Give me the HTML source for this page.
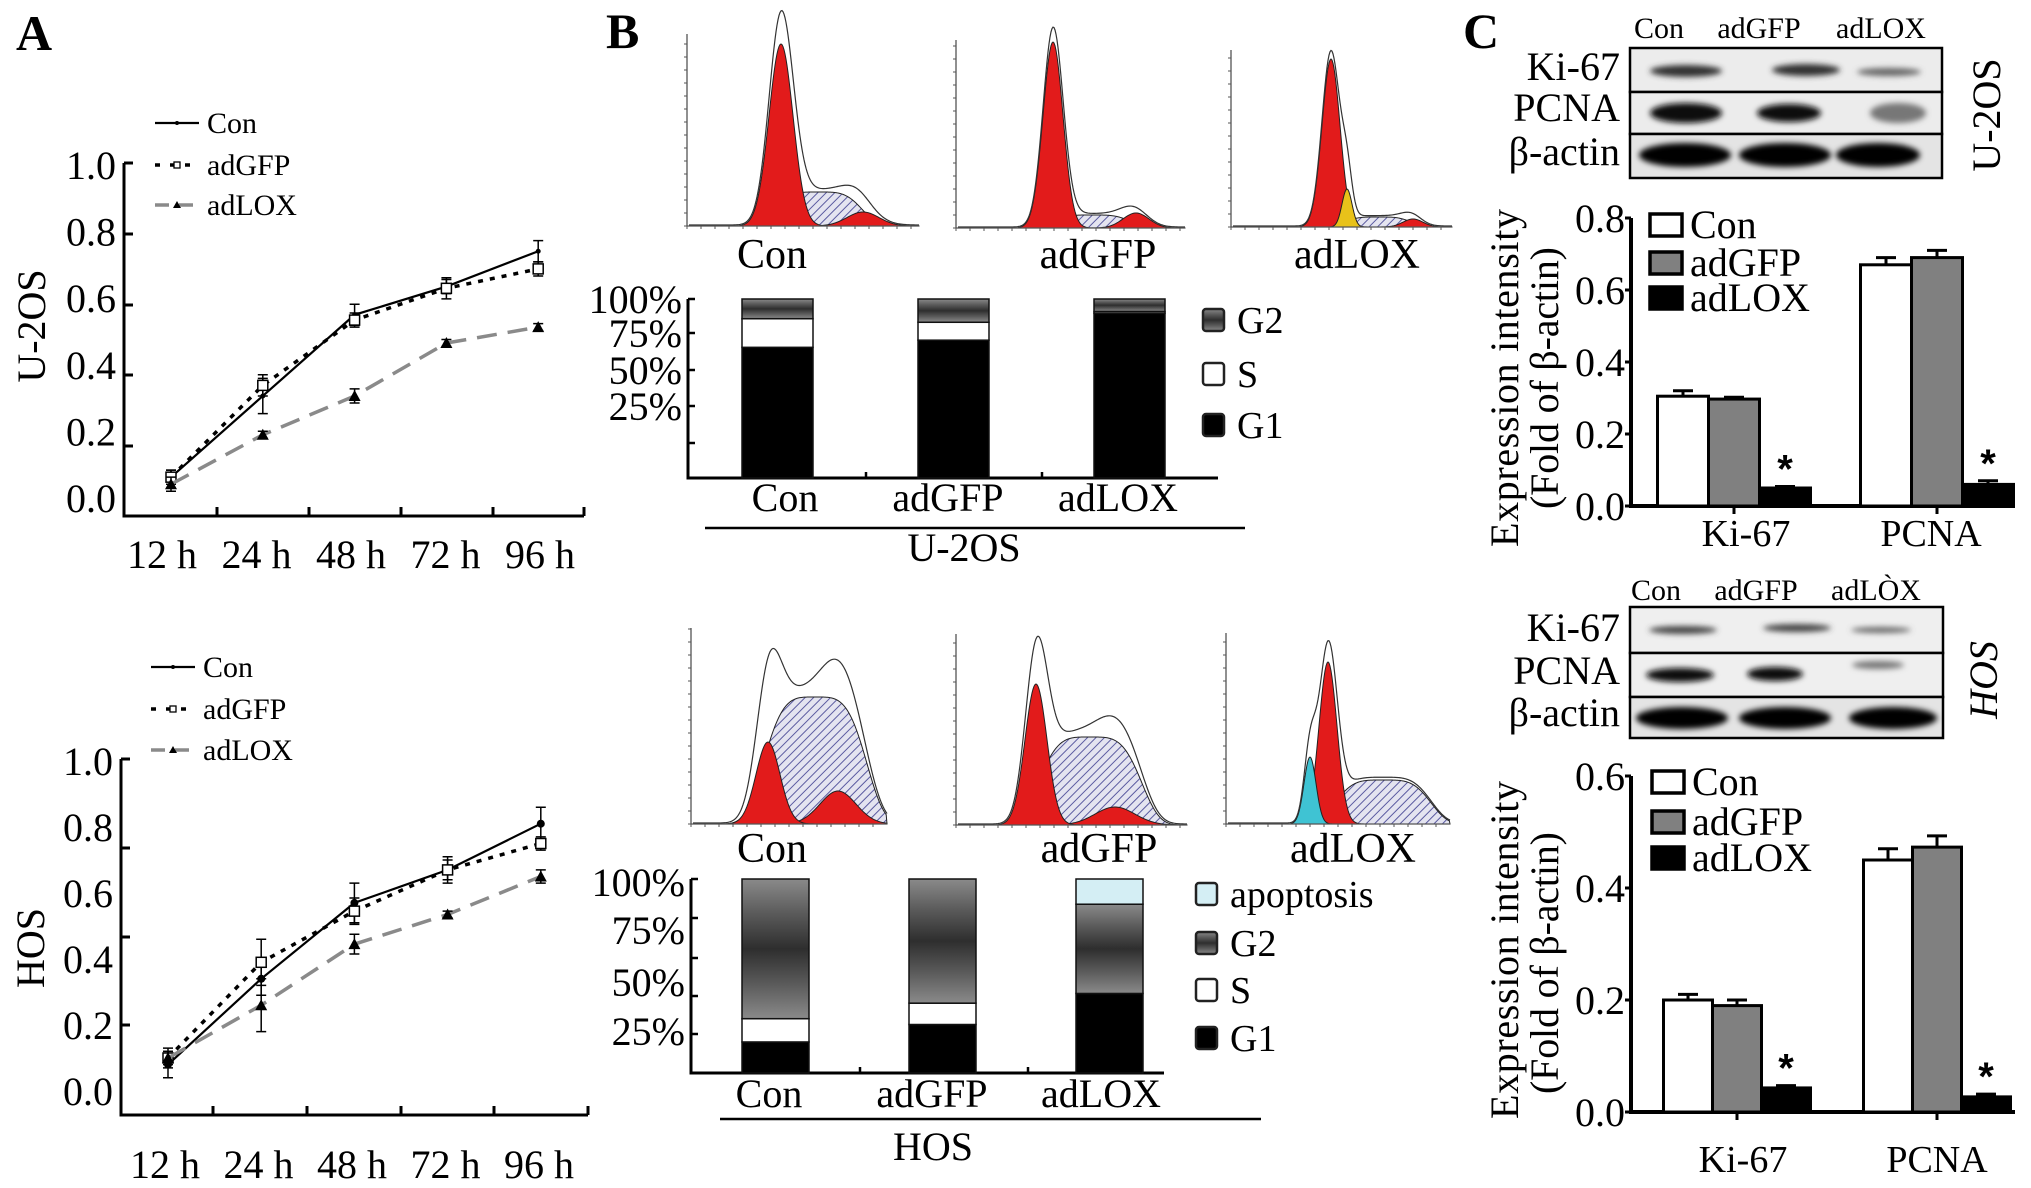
<!DOCTYPE html>
<html><head><meta charset="utf-8"><style>
html,body{margin:0;padding:0;background:#fff;}
svg{display:block;font-family:"Liberation Serif",serif;}
</style></head><body>
<svg id="fig" xmlns="http://www.w3.org/2000/svg" width="2031" height="1188" viewBox="0 0 2031 1188">
<defs>
<linearGradient id="g2grad" x1="0" y1="0" x2="0" y2="1">
<stop offset="0" stop-color="#8a8a8a"/><stop offset="0.25" stop-color="#5a5a5a"/><stop offset="0.5" stop-color="#2e2e2e"/><stop offset="0.75" stop-color="#5a5a5a"/><stop offset="1" stop-color="#8a8a8a"/>
</linearGradient>
<pattern id="hatch" width="6" height="6" patternUnits="userSpaceOnUse" patternTransform="rotate(45)">
<rect width="6" height="6" fill="#e4e4f0"/><line x1="0" y1="0" x2="0" y2="6" stroke="#5a5aa0" stroke-width="2"/>
</pattern>
<filter id="blur" x="-20%" y="-50%" width="140%" height="200%"><feGaussianBlur stdDeviation="3"/></filter>
</defs>
<rect width="2031" height="1188" fill="#fff"/>

<text x="16" y="50" font-size="50" font-weight="bold">A</text>
<text x="606" y="48" font-size="50" font-weight="bold">B</text>
<text x="1463" y="48" font-size="50" font-weight="bold">C</text>

<text transform="translate(45,326) rotate(-90)" text-anchor="middle" font-size="40">U-2OS</text>
<text transform="translate(44,948) rotate(-90)" text-anchor="middle" font-size="40">HOS</text>

<line x1="705" y1="528" x2="1245" y2="528" stroke="#000" stroke-width="2.5"/>
<text x="964" y="561" text-anchor="middle" font-size="40">U-2OS</text>
<line x1="720" y1="1119" x2="1261" y2="1119" stroke="#000" stroke-width="2.5"/>
<text x="933" y="1160" text-anchor="middle" font-size="40">HOS</text>

<g>
<text x="1659" y="38" text-anchor="middle" font-size="30">Con</text>
<text x="1759" y="38" text-anchor="middle" font-size="30">adGFP</text>
<text x="1881" y="38" text-anchor="middle" font-size="30">adLOX</text>
<rect x="1630" y="48" width="312" height="44" fill="#ececec" stroke="#000" stroke-width="2.5"/>
<rect x="1630" y="92" width="312" height="42" fill="#ececec" stroke="#000" stroke-width="2.5"/>
<rect x="1630" y="134" width="312" height="44" fill="#e4e4e4" stroke="#000" stroke-width="2.5"/>
<g filter="url(#blur)">
<ellipse cx="1686" cy="71" rx="36" ry="6" fill="#333"/><ellipse cx="1806" cy="70" rx="34" ry="6" fill="#333"/><ellipse cx="1889" cy="72" rx="32" ry="4" fill="#666"/>
<ellipse cx="1686" cy="113" rx="36" ry="10" fill="#111"/><ellipse cx="1789" cy="113" rx="32" ry="9" fill="#111"/><ellipse cx="1898" cy="113" rx="28" ry="10" fill="#777"/>
<ellipse cx="1685" cy="155" rx="46" ry="12" fill="#000"/><ellipse cx="1785" cy="155" rx="46" ry="12" fill="#000"/><ellipse cx="1878" cy="155" rx="42" ry="12" fill="#000"/>
</g>
<text x="1620" y="80" text-anchor="end" font-size="40">Ki-67</text>
<text x="1620" y="121" text-anchor="end" font-size="40">PCNA</text>
<text x="1620" y="165" text-anchor="end" font-size="40">β-actin</text>
<text transform="translate(2000,115) rotate(-90)" text-anchor="middle" font-size="40">U-2OS</text>
</g>
<g>
<text x="1656" y="600" text-anchor="middle" font-size="30">Con</text>
<text x="1756" y="600" text-anchor="middle" font-size="30">adGFP</text>
<text x="1876" y="600" text-anchor="middle" font-size="30">adLÒX</text>
<rect x="1630" y="607" width="313" height="46" fill="#efefef" stroke="#000" stroke-width="2.5"/>
<rect x="1630" y="653" width="313" height="44" fill="#efefef" stroke="#000" stroke-width="2.5"/>
<rect x="1630" y="697" width="313" height="41" fill="#e4e4e4" stroke="#000" stroke-width="2.5"/>
<g filter="url(#blur)">
<ellipse cx="1683" cy="630" rx="34" ry="4" fill="#444"/><ellipse cx="1797" cy="628" rx="34" ry="4" fill="#444"/><ellipse cx="1881" cy="630" rx="30" ry="3" fill="#666"/>
<ellipse cx="1680" cy="675" rx="34" ry="7" fill="#111"/><ellipse cx="1775" cy="674" rx="28" ry="7" fill="#111"/><ellipse cx="1878" cy="665" rx="26" ry="4" fill="#777"/>
<ellipse cx="1682" cy="718" rx="46" ry="11" fill="#000"/><ellipse cx="1785" cy="718" rx="46" ry="11" fill="#000"/><ellipse cx="1893" cy="718" rx="44" ry="11" fill="#000"/>
</g>
<text x="1620" y="641" text-anchor="end" font-size="40">Ki-67</text>
<text x="1620" y="684" text-anchor="end" font-size="40">PCNA</text>
<text x="1620" y="726" text-anchor="end" font-size="40">β-actin</text>
<text transform="translate(1997,680) rotate(-90)" text-anchor="middle" font-size="40" font-style="italic">HOS</text>
</g>
<text transform="translate(1518,378) rotate(-90)" text-anchor="middle" font-size="40" textLength="338">Expression intensity</text>
<text transform="translate(1558,378) rotate(-90)" text-anchor="middle" font-size="40" textLength="262">(Fold of β-actin)</text>
<text transform="translate(1518,950) rotate(-90)" text-anchor="middle" font-size="40" textLength="338">Expression intensity</text>
<text transform="translate(1558,963) rotate(-90)" text-anchor="middle" font-size="40" textLength="262">(Fold of β-actin)</text>
</svg>
<script>
// ---------- Panel A data ----------
const timeLabels = ['12 h', '24 h', '48 h', '72 h', '96 h'];
const lineTicks = [0, 0.2, 0.4, 0.6, 0.8, 1.0];
const seriesNames = ['Con', 'adGFP', 'adLOX'];
const u2osCon = [0.11, 0.34, 0.57, 0.65, 0.75];
const u2osGFP = [0.11, 0.37, 0.555, 0.645, 0.70];
const u2osLOX = [0.09, 0.23, 0.34, 0.49, 0.535];
const u2osConErr = [0.02, 0.05, 0.03, 0.02, 0.03];
const u2osGFPErr = [0.02, 0.03, 0.02, 0.03, 0.02];
const u2osLOXErr = [0.02, 0.01, 0.02, 0.01, 0.01];
const hosCon = [0.08, 0.34, 0.57, 0.67, 0.81];
const hosGFP = [0.10, 0.39, 0.545, 0.67, 0.75];
const hosLOX = [0.10, 0.26, 0.445, 0.535, 0.65];
const hosConErr = [0.04, 0.05, 0.06, 0.03, 0.05];
const hosGFPErr = [0.03, 0.07, 0.04, 0.04, 0.02];
const hosLOXErr = [0.02, 0.08, 0.03, 0.01, 0.02];
// ---------- Panel B data ----------
const cycleCats = ['Con', 'adGFP', 'adLOX'];
const pctTicks = ['100%', '75%', '50%', '25%'];
const u2osG1 = [73, 77, 92];
const u2osS = [16, 10, 1];
const u2osG2 = [11, 13, 7];
const hosG1 = [16, 25, 41];
const hosS = [12, 11, 0];
const hosG2 = [72, 64, 46];
const hosApo = [0, 0, 13];
// ---------- Panel C data ----------
const proteins = ['Ki-67', 'PCNA'];
const u2osExprCon = [0.305, 0.67];
const u2osExprGFP = [0.297, 0.69];
const u2osExprLOX = [0.05, 0.06];
const u2osExprConErr = [0.015, 0.02];
const u2osExprGFPErr = [0.005, 0.02];
const u2osExprLOXErr = [0.004, 0.01];
const u2osExprTicks = [0, 0.2, 0.4, 0.6, 0.8];
const hosExprCon = [0.2, 0.45];
const hosExprGFP = [0.19, 0.473];
const hosExprLOX = [0.043, 0.027];
const hosExprConErr = [0.01, 0.02];
const hosExprGFPErr = [0.01, 0.02];
const hosExprLOXErr = [0.004, 0.005];
const hosExprTicks = [0, 0.2, 0.4, 0.6];

const NS = 'http://www.w3.org/2000/svg';
const svg = document.getElementById('fig');
function mk(tag, attrs, parent) {
  const e = document.createElementNS(NS, tag);
  for (const k in attrs) e.setAttribute(k, attrs[k]);
  (parent || svg).appendChild(e);
  return e;
}
function txt(str, attrs, parent) { const t = mk('text', attrs, parent); t.textContent = str; return t; }

function lineChart(cfg) {
  const g = mk('g', {});
  
  
  const xs = i => cfg.x0 + i * cfg.dx;
  const ys = v => cfg.y0 - v * cfg.yk;
  const ax = mk('path', { d: `M${cfg.axX},${cfg.axTop} V${cfg.axBottom} H${cfg.axRight}`, fill: 'none', stroke: '#000', 'stroke-width': 3 }, g);
  
  
  cfg.yTickPos.forEach(p => { mk('line', { x1: cfg.axX, x2: cfg.axX + 9, y1: p, y2: p, stroke: '#000', 'stroke-width': 3 }, g); });
  cfg.xTickPos.forEach(p => { mk('line', { x1: p, x2: p, y1: cfg.axBottom, y2: cfg.axBottom - 9, stroke: '#000', 'stroke-width': 3 }, g); });
  lineTicks.forEach(v => {
    const t = txt(v.toFixed(1), { x: cfg.axX - 8, y: cfg.labY(v) + 14, 'text-anchor': 'end', 'font-size': 40 }, g);
    
    
  });
  timeLabels.forEach((l, i) => {
    const t = txt(l, { x: cfg.xlab0 + i * cfg.xlabDx, y: cfg.xlabY, 'text-anchor': 'middle', 'font-size': 40 }, g);
    
    
  });
  const styles = [
    { stroke: '#000', w: 2.2, dash: cfg.conDash },
    { stroke: '#000', w: 3.5, dash: '5 7' },
    { stroke: '#8a8a8a', w: 3.5, dash: '20 11' }];
  cfg.series.forEach((vals, s) => {
    const st = styles[s];
    const pts = vals.map((v, i) => `${xs(i)},${ys(v)}`).join(' ');
    const pl = mk('polyline', { points: pts, fill: 'none', stroke: st.stroke, 'stroke-width': st.w, 'stroke-dasharray': st.dash }, g);
    
    
    vals.forEach((v, i) => {
      const x = xs(i), y = ys(v), e = cfg.errs[s][i] * cfg.yk;
      const eb = mk('path', { d: `M${x},${y - e} V${y + e} M${x - 5},${y - e} H${x + 5} M${x - 5},${y + e} H${x + 5}`, stroke: '#000', 'stroke-width': 1.5, fill: 'none' }, g);
      
      
      let m;
      if (s === 0) m = mk('circle', { cx: x, cy: y, r: cfg.conR, fill: '#000' }, g);
      else if (s === 1) m = mk('rect', { x: x - 5, y: y - 5, width: 10, height: 10, fill: '#fff', stroke: '#000', 'stroke-width': 1.5 }, g);
      else m = mk('path', { d: `M${x},${y - 6} L${x + 6},${y + 5} L${x - 6},${y + 5} Z`, fill: '#000' }, g);
      
      
    });
  });
  seriesNames.forEach((n, s) => {
    const y = cfg.legY[s], st = styles[s];
    const ll = mk('line', { x1: cfg.legX0, x2: cfg.legX0 + 44, y1: y, y2: y, stroke: st.stroke, 'stroke-width': st.w, 'stroke-dasharray': s === 1 ? '5 10' : (s === 2 ? '14 10' : cfg.conDash) }, g);
    
    
    const cx = cfg.legX0 + 22;
    if (s === 0) mk('circle', { cx: cx, cy: y, r: 2, fill: '#000' }, g);
    else if (s === 1) mk('rect', { x: cx - 3, y: y - 3, width: 6, height: 6, fill: '#fff', stroke: '#000', 'stroke-width': 1.3 }, g);
    else mk('path', { d: `M${cx},${y - 4} L${cx + 4},${y + 3} L${cx - 4},${y + 3} Z`, fill: '#000' }, g);
    const t = txt(n, { x: cfg.legX0 + 52, y: y + 10, 'font-size': 30 }, g);
    
    
  });
}
lineChart({ name: 'u2os-growth-chart', x0: 171, dx: 91.8, y0: 516, yk: 353,
  axX: 124, axTop: 163, axBottom: 516, axRight: 584,
  yTickPos: [163, 234, 305, 375, 446], xTickPos: [217, 309, 401, 493, 584],
  labY: v => 498 - v * 333, xlab0: 162, xlabDx: 94.5, xlabY: 568,
  series: [u2osCon, u2osGFP, u2osLOX], errs: [u2osConErr, u2osGFPErr, u2osLOXErr],
  legX0: 155, legY: [123, 165, 205], conDash: 'none', conR: 2.5 });
lineChart({ name: 'hos-growth-chart', x0: 168, dx: 93.2, y0: 1091, yk: 330,
  axX: 121, axTop: 759, axBottom: 1115, axRight: 588,
  yTickPos: [759, 848, 937, 1025], xTickPos: [213, 307, 401, 494, 588],
  labY: v => 1091 - v * 330, xlab0: 165, xlabDx: 93.5, xlabY: 1178,
  series: [hosCon, hosGFP, hosLOX], errs: [hosConErr, hosGFPErr, hosLOXErr],
  legX0: 151, legY: [667, 709, 750], conDash: 'none', conR: 4 });

const histTitles = ['Con', 'adGFP', 'adLOX'];
const u2osPeaks = [
  [['g1', 781, 182, 12], ['s', 818, 34, 48], ['g2', 863, 14, 16]],
  [['g1', 1053, 186, 10], ['s', 1092, 13, 42], ['g2', 1136, 15, 13]],
  [['g1', 1331, 168, 9], ['y', 1347, 38, 5], ['s', 1378, 10, 36], ['g2', 1413, 8, 10]]];
const hosPeaks = [
  [['g1', 768, 82, 12], ['s', 815, 127, 56], ['g2', 838, 33, 18]],
  [['g1', 1036, 141, 11], ['s', 1090, 88, 56], ['g2', 1115, 18, 20]],
  [['a', 1310, 67, 6], ['g1', 1328, 162, 9], ['s', 1383, 44, 52]]];
function shape(p, x) {
  const d = (x - p[1]) / p[3];
  return p[0] === 's' ? p[2] * Math.exp(-Math.pow(d, 4)) : p[2] * Math.exp(-0.5 * d * d);
}
function histogram(name, axX, axTop, yb, axEnd, peaks, labX, labY) {
  const g = mk('g', {});
  
  
  const fills = { g1: '#e21b1b', g2: '#e21b1b', s: 'url(#hatch)', y: '#e8c21a', a: '#3fc3d3' };
  const order = ['s', 'g2', 'g1', 'y', 'a'];
  order.forEach(k => peaks.filter(p => p[0] === k).forEach(p => {
    const span = (k === 's' ? 1.8 : 4) * p[3];
    const x0 = Math.max(axX + 1, p[1] - span), x1 = Math.min(axEnd, p[1] + span);
    let d = `M${x0},${yb}`;
    for (let x = x0; x <= x1; x += 1) d += ` L${x},${yb - shape(p, x)}`;
    d += ` L${x1},${yb} Z`;
    const pe = mk('path', { d: d, fill: fills[k], stroke: '#222', 'stroke-width': 1 }, g);
    
    
  }));
  let d = '';
  for (let x = axX + 2; x <= axEnd; x += 1) {
    let s = 0; peaks.forEach(p => { s += shape(p, x); });
    d += (d ? ' L' : 'M') + x + ',' + (yb - s * 1.04 - 1);
  }
  const ol = mk('path', { d: d, fill: 'none', stroke: '#333', 'stroke-width': 1.2 }, g);
  
  
  const ax = mk('path', { d: `M${axX},${axTop} V${yb} H${axEnd}`, fill: 'none', stroke: '#555', 'stroke-width': 1.3 }, g);
  
  
  for (let y = yb; y > axTop; y -= 13) mk('line', { x1: axX - 3, x2: axX, y1: y, y2: y, stroke: '#555', 'stroke-width': 1 }, g);
  for (let x = axX; x < axEnd; x += 14) mk('line', { x1: x, x2: x, y1: yb, y2: yb + 3, stroke: '#555', 'stroke-width': 1 }, g);
  const t = txt(labX[1], { x: labX[0], y: labY, 'text-anchor': 'middle', 'font-size': 42 }, g);
  
  
}
histogram('u2os-hist-con', 687, 34, 226, 919, u2osPeaks[0], [772, histTitles[0]], 268);
histogram('u2os-hist-adgfp', 956, 40, 228, 1185, u2osPeaks[1], [1098, histTitles[1]], 268);
histogram('u2os-hist-adlox', 1231, 50, 227, 1452, u2osPeaks[2], [1357, histTitles[2]], 268);
histogram('hos-hist-con', 691, 628, 824, 887, hosPeaks[0], [772, histTitles[0]], 862);
histogram('hos-hist-adgfp', 956, 634, 825, 1187, hosPeaks[1], [1099, histTitles[1]], 862);
histogram('hos-hist-adlox', 1226, 633, 824, 1450, hosPeaks[2], [1353, histTitles[2]], 862);

function stacked(cfg) {
  const g = mk('g', {});
  
  
  const ys = p => cfg.y0 - p * cfg.k;
  const ax = mk('path', { d: `M${cfg.axX},${ys(100)} V${cfg.y0} H${cfg.axEnd}`, fill: 'none', stroke: '#000', 'stroke-width': 3 }, g);
  
  
  cfg.tickPos.forEach(p => mk('line', { x1: cfg.axX, x2: cfg.axX + 7, y1: p, y2: p, stroke: '#000', 'stroke-width': 2.5 }, g));
  cfg.xTicks.forEach(p => mk('line', { x1: p, x2: p, y1: cfg.y0, y2: cfg.y0 - 6, stroke: '#000', 'stroke-width': 2.5 }, g));
  pctTicks.forEach((l, i) => {
    const t = txt(l, { x: cfg.axX - 6, y: cfg.labPos[i] + 14, 'text-anchor': 'end', 'font-size': 40 }, g);
    
    
  });
  cycleCats.forEach((c, i) => {
    const x = cfg.bx0 + i * cfg.bdx;
    let base = 0;
    cfg.layers.forEach((L) => {
      const v = L.vals[i];
      if (v <= 0) return;
      const r = mk('rect', { x: x, y: ys(base + v), width: cfg.bw, height: v * cfg.k, fill: L.fill, stroke: '#111', 'stroke-width': 1.5 }, g);
      
      
      base += v;
    });
    const t = txt(c, { x: cfg.labX[i], y: cfg.labY, 'text-anchor': 'middle', 'font-size': 40 }, g);
    
    
  });
  cfg.legend.forEach((L, i) => {
    const y = cfg.legY[i];
    const r = mk('rect', { x: cfg.legX, y: y - 11, width: 21, height: 22, rx: 3, fill: L.fill, stroke: '#222', 'stroke-width': 2.5 }, g);
    
    
    const t = txt(L.n, { x: cfg.legX + 34, y: y + 13, 'font-size': 38 }, g);
    
    
  });
}
stacked({ name: 'u2os-cycle-bars', y0: 478, k: 1.79, axX: 688, axEnd: 1218,
  tickPos: [299, 333, 370, 406, 443], xTicks: [866, 1042], labPos: [299, 333, 370, 406],
  bx0: 742, bdx: 176, bw: 71, labX: [785, 948, 1118], labY: 511,
  layers: [{ n: 'g1', vals: u2osG1, fill: '#000' }, { n: 's', vals: u2osS, fill: '#fff' }, { n: 'g2', vals: u2osG2, fill: 'url(#g2grad)' }],
  legX: 1203, legY: [320, 374, 425],
  legend: [{ n: 'G2', fill: 'url(#g2grad)' }, { n: 'S', fill: '#fff' }, { n: 'G1', fill: '#000' }] });
stacked({ name: 'hos-cycle-bars', y0: 1073, k: 1.94, axX: 691, axEnd: 1164,
  tickPos: [879, 918, 958, 996, 1034], xTicks: [860, 1028], labPos: [882, 930, 982, 1031],
  bx0: 742, bdx: 167, bw: 67, labX: [769, 932, 1101], labY: 1107,
  layers: [{ n: 'g1', vals: hosG1, fill: '#000' }, { n: 's', vals: hosS, fill: '#fff' }, { n: 'g2', vals: hosG2, fill: 'url(#g2grad)' }, { n: 'apoptosis', vals: hosApo, fill: '#d4eef4' }],
  legX: 1196, legY: [894, 943, 990, 1038],
  legend: [{ n: 'apoptosis', fill: '#d4eef4' }, { n: 'G2', fill: 'url(#g2grad)' }, { n: 'S', fill: '#fff' }, { n: 'G1', fill: '#000' }] });

function exprChart(cfg) {
  const g = mk('g', {});
  
  
  const ys = v => cfg.y0 - v * cfg.k;
  const top = ys(cfg.ticks[cfg.ticks.length - 1]);
  const ax = mk('path', { d: `M${cfg.axX},${top} V${cfg.y0} H${cfg.axEnd}`, fill: 'none', stroke: '#000', 'stroke-width': 4 }, g);
  
  
  cfg.ticks.forEach(v => {
    mk('line', { x1: cfg.axX - 6, x2: cfg.axX, y1: ys(v), y2: ys(v), stroke: '#000', 'stroke-width': 3 }, g);
    const t = txt(v.toFixed(1), { x: cfg.axX - 6, y: ys(v) + 14, 'text-anchor': 'end', 'font-size': 40 }, g);
    
    
  });
  const fills = ['#fff', '#808080', '#000'];
  const offs = [-1.5, -0.5, 0.5];
  proteins.forEach((p, i) => {
    const c = cfg.c0 + i * cfg.cdx;
    cfg.series.forEach((vals, s) => {
      const x = c + offs[s] * cfg.bw, v = vals[i];
      const eb = mk('path', { d: `M${x + cfg.bw / 2},${ys(v)} V${ys(v + cfg.errs[s][i])} M${x + cfg.bw / 2 - 10},${ys(v + cfg.errs[s][i])} H${x + cfg.bw / 2 + 10}`, stroke: '#000', 'stroke-width': 3, fill: 'none' }, g);
      
      
      const r = mk('rect', { x: x, y: ys(v), width: cfg.bw, height: v * cfg.k, fill: fills[s], stroke: '#000', 'stroke-width': 3 }, g);
      
      
      if (s === 2) {
        const st = txt('*', { x: x + cfg.bw / 2, y: ys(v + cfg.errs[s][i]) - 4, 'text-anchor': 'middle', 'font-size': 40, 'font-family': 'Liberation Sans, sans-serif', 'font-weight': 'bold' }, g);
        
        
      }
    });
    mk('line', { x1: c, x2: c, y1: cfg.y0, y2: cfg.y0 + 8, stroke: '#000', 'stroke-width': 3 }, g);
    const t = txt(p, { x: cfg.labX[i], y: cfg.labY, 'text-anchor': 'middle', 'font-size': 38 }, g);
    
    
  });
  seriesNames.forEach((n, s) => {
    const y = cfg.legY[s];
    const r = mk('rect', { x: cfg.legX, y: y - 11, width: 32, height: 22, fill: fills[s], stroke: '#000', 'stroke-width': 3.5 }, g);
    
    
    const t = txt(n, { x: cfg.legX + 40, y: y + 13, 'font-size': 40 }, g);
    
    
  });
}
exprChart({ name: 'u2os-expression-chart', y0: 506, k: 360, axX: 1631, axEnd: 2015, ticks: u2osExprTicks,
  c0: 1734, cdx: 203, bw: 51, series: [u2osExprCon, u2osExprGFP, u2osExprLOX],
  errs: [u2osExprConErr, u2osExprGFPErr, u2osExprLOXErr], labX: [1746, 1931], labY: 546,
  legX: 1650, legY: [225, 263, 298] });
exprChart({ name: 'hos-expression-chart', y0: 1112, k: 560, axX: 1631, axEnd: 2015, ticks: hosExprTicks,
  c0: 1737, cdx: 200, bw: 49, series: [hosExprCon, hosExprGFP, hosExprLOX],
  errs: [hosExprConErr, hosExprGFPErr, hosExprLOXErr], labX: [1743, 1937], labY: 1172,
  legX: 1652, legY: [782, 822, 858] });
</script>
</body></html>
